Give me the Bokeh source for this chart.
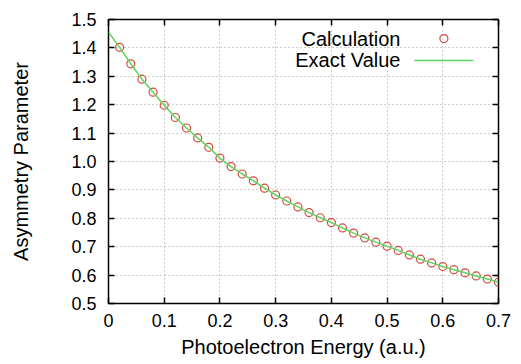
from bokeh.plotting import figure
from bokeh.models import Range1d, LinearAxis, Label, FixedTicker, NumeralTickFormatter
from bokeh.embed import file_html
from bokeh.resources import INLINE

# ---- data ----
energy = [0.02, 0.04, 0.06, 0.08, 0.10, 0.12, 0.14, 0.16, 0.18, 0.20,
          0.22, 0.24, 0.26, 0.28, 0.30, 0.32, 0.34, 0.36, 0.38, 0.40,
          0.42, 0.44, 0.46, 0.48, 0.50, 0.52, 0.54, 0.56, 0.58, 0.60,
          0.62, 0.64, 0.66, 0.68, 0.70]
calculation = [1.402, 1.344, 1.290, 1.244, 1.198, 1.155, 1.118, 1.083, 1.050, 1.012,
               0.982, 0.956, 0.932, 0.906, 0.882, 0.861, 0.840, 0.820, 0.802, 0.785,
               0.766, 0.748, 0.731, 0.716, 0.702, 0.687, 0.671, 0.656, 0.643, 0.630,
               0.619, 0.608, 0.597, 0.586, 0.575]
exact_energy = [0.00, 0.02, 0.04, 0.06, 0.08, 0.10, 0.12, 0.14, 0.16, 0.18, 0.20,
                0.22, 0.24, 0.26, 0.28, 0.30, 0.32, 0.34, 0.36, 0.38, 0.40,
                0.42, 0.44, 0.46, 0.48, 0.50, 0.52, 0.54, 0.56, 0.58, 0.60,
                0.62, 0.64, 0.66, 0.68, 0.70]
exact_value = [1.455, 1.402, 1.344, 1.290, 1.244, 1.198, 1.155, 1.118, 1.083, 1.050, 1.012,
               0.982, 0.956, 0.932, 0.906, 0.882, 0.861, 0.840, 0.820, 0.802, 0.785,
               0.766, 0.748, 0.731, 0.716, 0.702, 0.687, 0.671, 0.656, 0.643, 0.630,
               0.619, 0.608, 0.597, 0.586, 0.575]

x_ticks = [0, 0.1, 0.2, 0.3, 0.4, 0.5, 0.6, 0.7]
y_ticks = [0.5, 0.6, 0.7, 0.8, 0.9, 1.0, 1.1, 1.2, 1.3, 1.4, 1.5]
x_title = "Photoelectron Energy (a.u.)"
y_title = "Asymmetry Parameter"
series_names = ["Calculation", "Exact Value"]

FONT = "Liberation Sans"
CALC_COLOR = "#d24a3c"
EXACT_COLOR = "#5fd35f"

p = figure(width=521, height=364, output_backend="svg", toolbar_location=None,
           x_range=Range1d(0, 0.7), y_range=Range1d(0.5, 1.5),
           min_border_left=108, min_border_right=23, min_border_top=19,
           min_border_bottom=61)

p.background_fill_color = "white"
p.border_fill_color = "white"
p.outline_line_color = "black"
p.outline_line_width = 1.5

for ax in (p.xaxis[0], p.yaxis[0]):
    ax.axis_line_color = None
    ax.major_tick_in = 6
    ax.major_tick_out = 0
    ax.major_tick_line_color = "black"
    ax.major_tick_line_width = 1.5
    ax.minor_tick_line_color = None
    ax.major_label_text_font = FONT
    ax.major_label_text_font_size = "18px"
    ax.major_label_text_color = "black"
    ax.axis_label_text_font = FONT
    ax.axis_label_text_font_size = "20px"
    ax.axis_label_text_font_style = "normal"
    ax.axis_label_text_color = "black"

p.xaxis[0].ticker = FixedTicker(ticks=x_ticks)
p.yaxis[0].ticker = FixedTicker(ticks=y_ticks)
p.xaxis[0].formatter = NumeralTickFormatter(format="0.[0]")
p.yaxis[0].formatter = NumeralTickFormatter(format="0.0")
p.xaxis[0].axis_label = x_title
p.yaxis[0].axis_label = y_title
p.xaxis[0].major_label_standoff = 10
p.xaxis[0].axis_label_standoff = 6
p.yaxis[0].major_label_standoff = 12
p.yaxis[0].axis_label_standoff = 36

# mirror ticks on top and right
for loc, ticks in (("above", x_ticks), ("right", y_ticks)):
    ax = LinearAxis(ticker=FixedTicker(ticks=ticks))
    ax.axis_line_color = None
    ax.major_tick_in = 6
    ax.major_tick_out = 0
    ax.major_tick_line_color = "black"
    ax.major_tick_line_width = 1.5
    ax.minor_tick_line_color = None
    ax.major_label_text_font_size = "1px"
    ax.major_label_text_color = None
    ax.major_label_standoff = 0
    p.add_layout(ax, loc)

p.xgrid.ticker = FixedTicker(ticks=x_ticks)
p.ygrid.ticker = FixedTicker(ticks=y_ticks)
for g in (p.xgrid[0], p.ygrid[0]):
    g.grid_line_color = "#9a9a9a"
    g.grid_line_dash = "1 3"
    g.grid_line_width = 1

# data
p.scatter(energy, calculation, marker="circle", size=8, fill_color=None,
          line_color=CALC_COLOR, line_width=1.2)
p.line(exact_energy, exact_value, line_color=EXACT_COLOR, line_width=1.5)

# manual key (text left of sample, as in the reference)
key_text_x = 0.524
key_sample_x = [0.549, 0.655]
key_y = [1.433, 1.356]
for name, ky in zip(series_names, key_y):
    p.add_layout(Label(x=key_text_x, y=ky, text=name, text_align="right",
                       text_baseline="middle", text_font=FONT,
                       text_font_size="20px", text_color="black"))
p.scatter([sum(key_sample_x) / 2], [key_y[0]], marker="circle", size=8,
          fill_color=None, line_color=CALC_COLOR, line_width=1.2)
p.line(key_sample_x, [key_y[1], key_y[1]], line_color=EXACT_COLOR, line_width=1.5)

open("out.html", "w").write(file_html(p, INLINE))
